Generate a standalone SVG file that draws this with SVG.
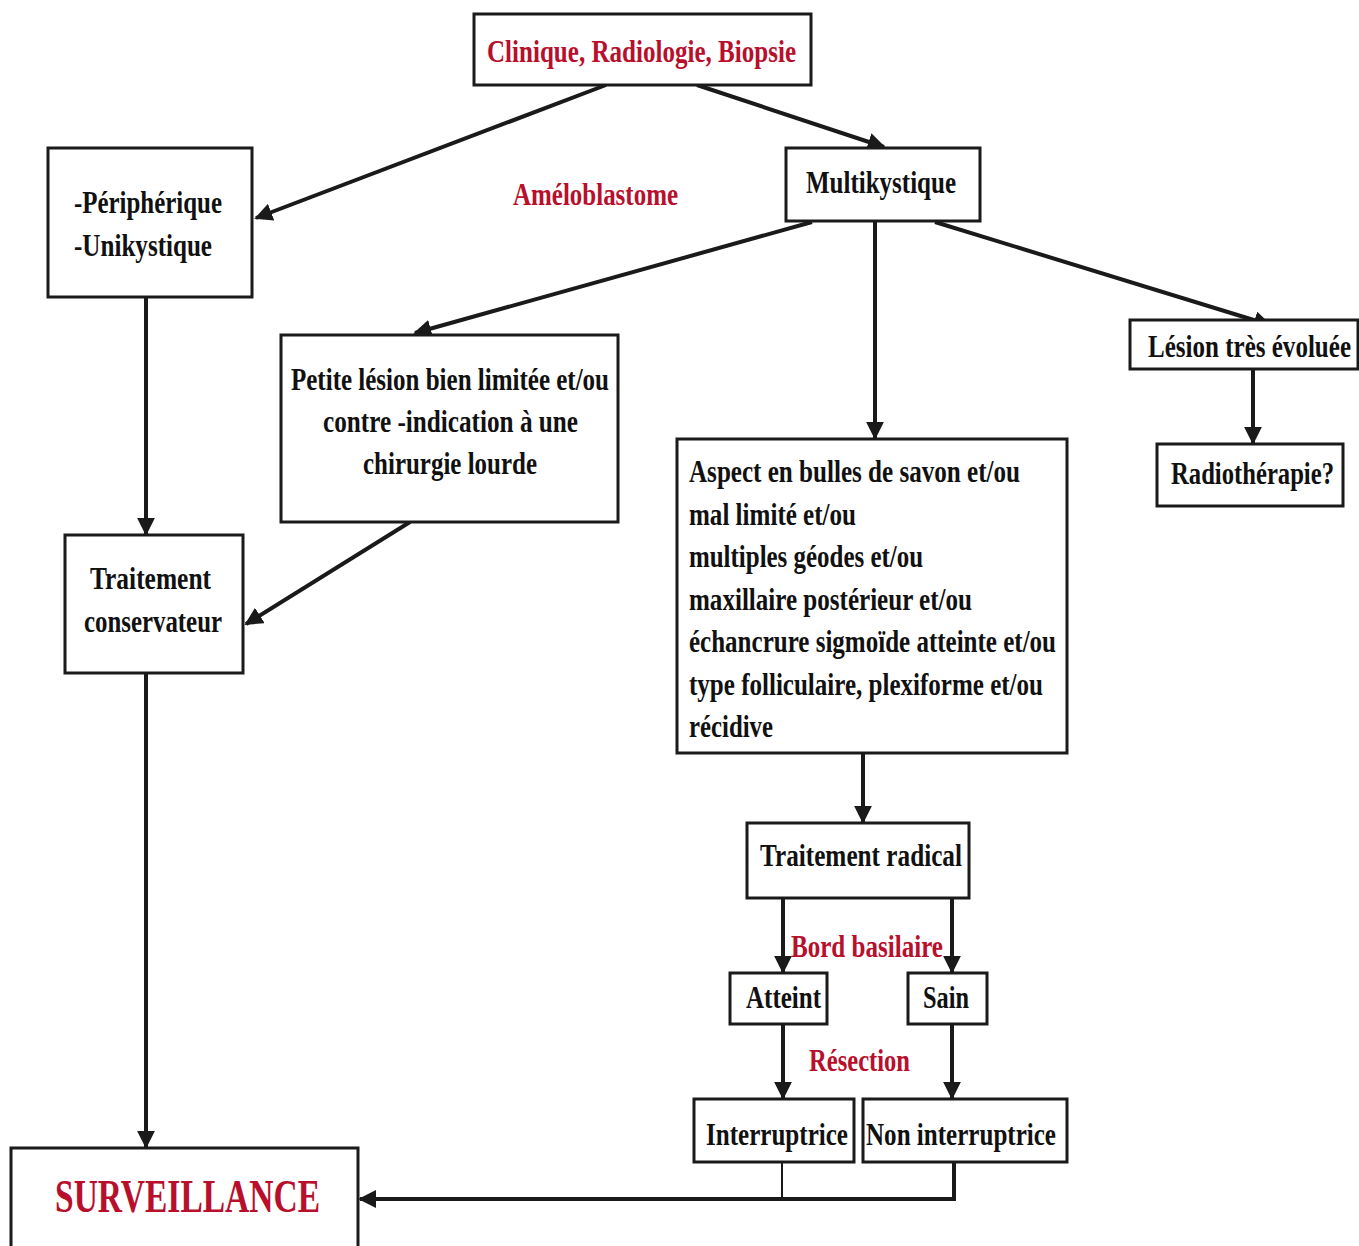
<svg xmlns="http://www.w3.org/2000/svg" width="1359" height="1246" viewBox="0 0 1359 1246">
<style>
rect.box{fill:#fff;stroke:#1a1a1a;stroke-width:3}
text{font-family:"Liberation Serif","Times New Roman",serif;font-weight:bold;font-size:31px;fill:#111}
text.red{fill:#b8102c}
.c line,.c path,.c polyline{stroke:#1a1a1a;stroke-width:4;fill:none}
</style>
<defs>
<marker id="ah" viewBox="0 0 10 10" refX="9" refY="5" markerWidth="4.5" markerHeight="4.5" markerUnits="strokeWidth" orient="auto">
<path d="M0,0 L10,5 L0,10 Z" fill="#1a1a1a"/>
</marker>
</defs>
<rect width="1359" height="1246" fill="#fff"/>
<g class="c" id="connectors">
<line x1="606" y1="85" x2="256" y2="218" marker-end="url(#ah)"/>
<line x1="697" y1="85" x2="884" y2="147" marker-end="url(#ah)"/>
<line x1="812" y1="222" x2="415" y2="333" marker-end="url(#ah)"/>
<line x1="875" y1="222" x2="875" y2="438" marker-end="url(#ah)"/>
<line x1="935" y1="222" x2="1270" y2="325" marker-end="url(#ah)"/>
<line x1="1253" y1="369" x2="1253" y2="443" marker-end="url(#ah)"/>
<line x1="146" y1="297" x2="146" y2="534" marker-end="url(#ah)"/>
<line x1="410" y1="522" x2="246" y2="624" marker-end="url(#ah)"/>
<line x1="146" y1="673" x2="146" y2="1147" marker-end="url(#ah)"/>
<line x1="863" y1="753" x2="863" y2="822" marker-end="url(#ah)"/>
<line x1="783" y1="898" x2="783" y2="972" marker-end="url(#ah)"/>
<line x1="952" y1="898" x2="952" y2="972" marker-end="url(#ah)"/>
<line x1="783" y1="1024" x2="783" y2="1098" marker-end="url(#ah)"/>
<line x1="952" y1="1024" x2="952" y2="1098" marker-end="url(#ah)"/>
<line x1="782" y1="1162" x2="782" y2="1199" style="stroke-width:2"/>
<polyline points="954,1162 954,1199 360,1199" marker-end="url(#ah)"/>
</g>
<g id="n-top"><rect class="box" x="474" y="14" width="337" height="71"/>
<text class="red" x="487" y="62" textLength="309" lengthAdjust="spacingAndGlyphs">Clinique, Radiologie, Biopsie</text></g>
<g id="n-periph"><rect class="box" x="48" y="148" width="204" height="149"/>
<text x="74" y="213" textLength="148" lengthAdjust="spacingAndGlyphs">-Périphérique</text>
<text x="74" y="256" textLength="138" lengthAdjust="spacingAndGlyphs">-Unikystique</text></g>
<g id="n-amelo"><text class="red" x="513" y="205" textLength="165" lengthAdjust="spacingAndGlyphs">Améloblastome</text></g>
<g id="n-multi"><rect class="box" x="786" y="148" width="194" height="73"/>
<text x="806" y="193" textLength="150" lengthAdjust="spacingAndGlyphs">Multikystique</text></g>
<g id="n-petite"><rect class="box" x="281" y="335" width="337" height="187"/>
<text x="291" y="390" textLength="318" lengthAdjust="spacingAndGlyphs">Petite lésion bien limitée et/ou</text>
<text x="323" y="432" textLength="255" lengthAdjust="spacingAndGlyphs">contre -indication à une</text>
<text x="363" y="474" textLength="174" lengthAdjust="spacingAndGlyphs">chirurgie lourde</text></g>
<g id="n-lesion"><rect class="box" x="1130" y="320" width="228" height="49"/>
<text transform="translate(1148,357) scale(0.8,1)" x="0" y="0" textLength="253.75" lengthAdjust="spacingAndGlyphs">Lésion très évoluée</text></g>
<g id="n-radio"><rect class="box" x="1157" y="444" width="186" height="62"/>
<text transform="translate(1171,484) scale(0.75,1)" x="0" y="0" textLength="217.3" lengthAdjust="spacingAndGlyphs">Radiothérapie?</text></g>
<g id="n-aspect"><rect class="box" x="677" y="439" width="390" height="314"/>
<text x="689" y="482" textLength="331" lengthAdjust="spacingAndGlyphs">Aspect en bulles de savon et/ou</text>
<text x="689" y="525" textLength="167" lengthAdjust="spacingAndGlyphs">mal limité et/ou</text>
<text x="689" y="567" textLength="234" lengthAdjust="spacingAndGlyphs">multiples géodes et/ou</text>
<text x="689" y="610" textLength="283" lengthAdjust="spacingAndGlyphs">maxillaire postérieur et/ou</text>
<text x="689" y="652" textLength="367" lengthAdjust="spacingAndGlyphs">échancrure sigmoïde atteinte et/ou</text>
<text x="689" y="695" textLength="354" lengthAdjust="spacingAndGlyphs">type folliculaire, plexiforme et/ou</text>
<text x="689" y="737" textLength="84" lengthAdjust="spacingAndGlyphs">récidive</text></g>
<g id="n-conserv"><rect class="box" x="65" y="535" width="178" height="138"/>
<text x="90" y="589" textLength="121" lengthAdjust="spacingAndGlyphs">Traitement</text>
<text x="84" y="632" textLength="138" lengthAdjust="spacingAndGlyphs">conservateur</text></g>
<g id="n-radical"><rect class="box" x="747" y="823" width="222" height="75"/>
<text x="760" y="866" textLength="202" lengthAdjust="spacingAndGlyphs">Traitement radical</text></g>
<g id="n-bord"><text class="red" x="791" y="957" textLength="152" lengthAdjust="spacingAndGlyphs">Bord basilaire</text></g>
<g id="n-atteint"><rect class="box" x="730" y="973" width="97" height="51"/>
<text x="746" y="1008" textLength="75" lengthAdjust="spacingAndGlyphs">Atteint</text></g>
<g id="n-sain"><rect class="box" x="908" y="973" width="79" height="51"/>
<text x="923" y="1008" textLength="46" lengthAdjust="spacingAndGlyphs">Sain</text></g>
<g id="n-resection"><text class="red" x="809" y="1071" textLength="101" lengthAdjust="spacingAndGlyphs">Résection</text></g>
<g id="n-interr"><rect class="box" x="694" y="1099" width="160" height="63"/>
<text x="706" y="1145" textLength="142" lengthAdjust="spacingAndGlyphs">Interruptrice</text></g>
<g id="n-noninterr"><rect class="box" x="863" y="1099" width="204" height="63"/>
<text x="866" y="1145" textLength="190" lengthAdjust="spacingAndGlyphs">Non interruptrice</text></g>
<g id="n-surv"><rect class="box" x="11" y="1148" width="347" height="110"/>
<text class="red" x="55" y="1212" style="font-size:46px" textLength="265" lengthAdjust="spacingAndGlyphs">SURVEILLANCE</text></g>
</svg>
